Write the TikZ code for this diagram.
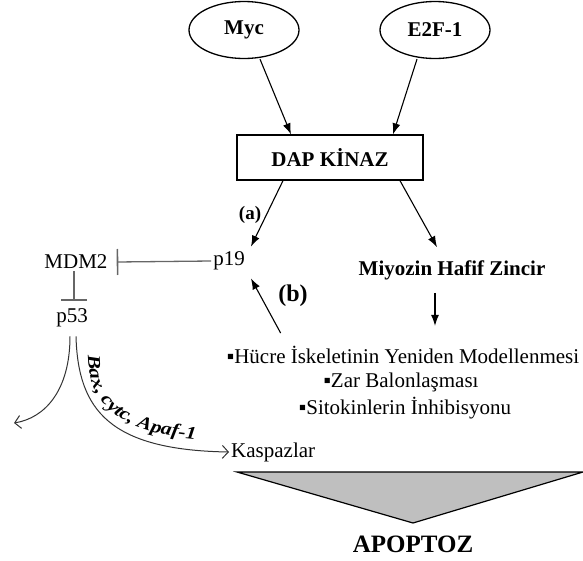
\documentclass[tikz,border=0pt]{standalone}
\usepackage{fontspec}
\setmainfont{Liberation Serif}
\newfontfamily\widelabel[FakeStretch=1.2]{Liberation Serif}
\usetikzlibrary{arrows.meta,shapes.geometric,decorations.text}
\begin{document}
\begin{tikzpicture}[x=1pt,y=-1pt,
  base/.style={font=\fontsize{21}{25}\selectfont, inner sep=2pt},
  bold/.style={font=\fontsize{21}{25}\selectfont\bfseries, inner sep=2pt},
  oval/.style={ellipse, draw, line width=1.3pt, minimum width=110pt, minimum height=57pt, inner sep=0pt, font=\fontsize{21}{25}\selectfont\bfseries},
  arr/.style={line width=1.1pt, -{Latex[length=11pt,width=8pt]}},
  inh/.style={draw=black!60, line width=1.3pt, -{Bar[width=26pt,line width=1.6pt]}},
  openarr/.style={line width=1pt, draw=black!80, -{Straight Barb[length=6pt,width=13pt]}}]
\useasboundingbox (0,0) rectangle (583,560);
% nodes
\node[oval] (myc) at (244,30) {Myc};
\node[oval] (e2f) at (435,30) {E2F-1};
\node[draw, line width=1.3pt, minimum width=186pt, minimum height=45pt, bold] (dap) at (330,157.5) {DAP KİNAZ};
\node[base] (p19) at (229,261) {p19};
\node[base] (mdm2) at (76,262) {MDM2};
\node[base] (p53) at (72,318) {p53};
\node[font=\fontsize{19}{22}\selectfont\bfseries, inner sep=1pt] (a) at (250,215) {(a)};
\node[font=\fontsize{24}{28}\selectfont\bfseries, inner sep=1pt] (b) at (293,296) {(b)};
\node[bold] (miy) at (452,270) {Miyozin Hafif Zincir};
\node[base] (h1) at (403,355) {▪Hücre İskeletinin Yeniden Modellenmesi};
\node[base] (h2) at (401,382) {▪Zar Balonlaşması};
\node[base] (h3) at (405,408) {▪Sitokinlerin İnhibisyonu};
\node[base, anchor=west] (kasp) at (229,452) {Kaspazlar};
\node[font=\fontsize{25}{29}\selectfont\bfseries] (apo) at (413,544) {APOPTOZ};
\coordinate (lft) at (14,423);
% triangle
\draw[line width=1.2pt, fill=black!25] (237,472) -- (583,472) -- (413,523) -- cycle;
% arrows
\draw[arr] ([xshift=16pt]myc.south) -- ([xshift=-39pt]dap.north);
\draw[arr] ([xshift=-18pt]e2f.south) -- ([xshift=63pt]dap.north);
\draw[arr] ([xshift=-47pt]dap.south) -- ([xshift=4pt,yshift=3pt]p19.north east);
\draw[arr] ([xshift=70pt]dap.south) -- ([xshift=-15pt,yshift=11pt]miy.north);
\draw[arr] ([xshift=-17pt,yshift=-11pt]miy.south) -- ([xshift=-17pt,yshift=-44pt]miy.south);
\draw[arr] ([xshift=56pt,yshift=11pt]h1.north west) -- ([xshift=4pt,yshift=-6pt]p19.south east);
% inhibitions
\draw[inh] (p19.west) -- ([xshift=7pt]mdm2.east);
\draw[inh] ([xshift=-2pt]mdm2.south) -- ([xshift=2pt,yshift=6pt]p53.north);
% p53 curves
\draw[openarr] ([xshift=-2pt,yshift=-7pt]p53.south) .. controls +(0,54) and +(31,-5) .. (lft);
\draw[openarr] ([xshift=4pt,yshift=-7pt]p53.south) .. controls +(2,74) and +(-119,-2) .. (kasp.west);
\begin{scope}[y=1pt]
\path[decorate, decoration={text along path, text align=left,
  text={|\widelabel\fontsize{18}{21}\selectfont\bfseries\itshape|Bax, cytc, Apaf-1}}]
  (88,-355) .. controls (88,-405) and (118,-438) .. (225,-441);
\end{scope}
\end{tikzpicture}
\end{document}
